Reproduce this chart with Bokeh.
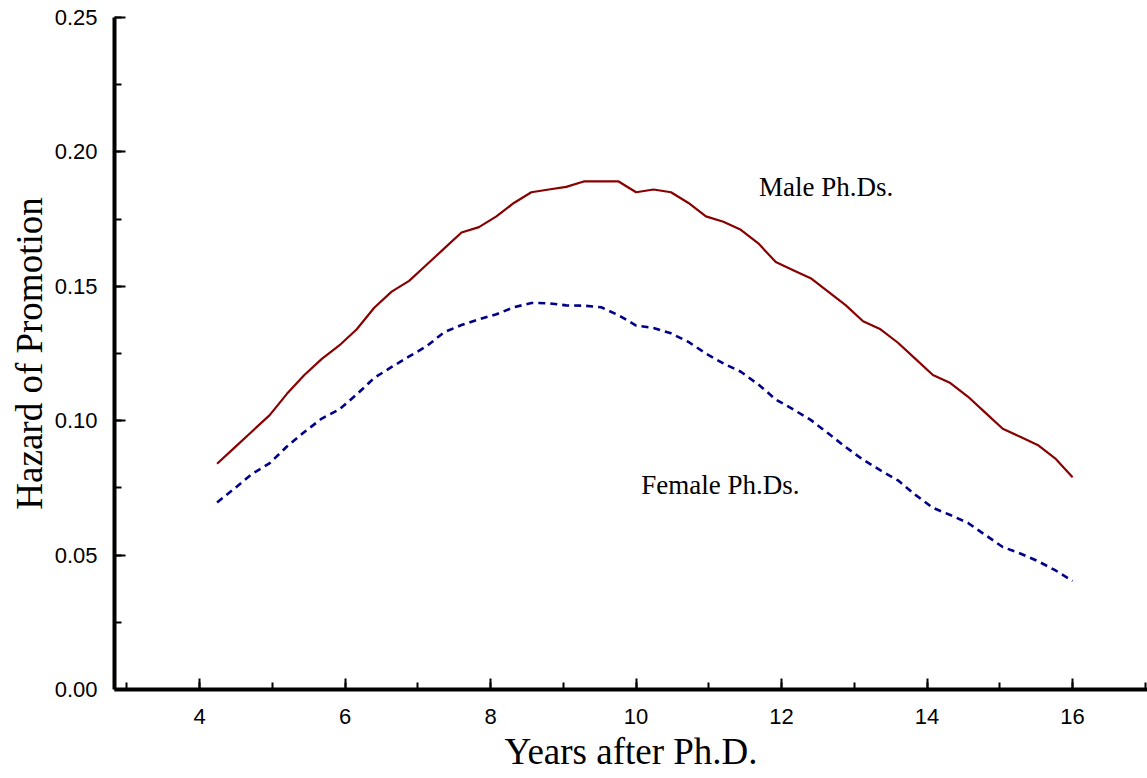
from bokeh.plotting import figure
from bokeh.models import SingleIntervalTicker, NumeralTickFormatter, Range1d
from bokeh.core.properties import value
from bokeh.embed import file_html
from bokeh.resources import INLINE

years = [4.24, 4.48, 4.72, 4.96, 5.20, 5.44, 5.68, 5.92, 6.16, 6.40,
         6.64, 6.88, 7.12, 7.36, 7.60, 7.84, 8.08, 8.32, 8.56, 8.80,
         9.04, 9.28, 9.52, 9.76, 10.00, 10.24, 10.48, 10.72, 10.96, 11.20,
         11.44, 11.68, 11.92, 12.16, 12.40, 12.64, 12.88, 13.12, 13.36, 13.60,
         13.84, 14.08, 14.32, 14.56, 14.80, 15.04, 15.28, 15.52, 15.76, 16.00]

male = [0.084, 0.090, 0.096, 0.102, 0.110, 0.117, 0.123, 0.128, 0.134, 0.142,
        0.148, 0.152, 0.158, 0.164, 0.170, 0.172, 0.176, 0.181, 0.185, 0.186,
        0.187, 0.189, 0.189, 0.189, 0.185, 0.186, 0.185, 0.181, 0.176, 0.174,
        0.171, 0.166, 0.159, 0.156, 0.153, 0.148, 0.143, 0.137, 0.134, 0.129,
        0.123, 0.117, 0.114, 0.109, 0.103, 0.097, 0.094, 0.091, 0.086, 0.079]

female = [0.0696, 0.0748, 0.0802, 0.0841, 0.0904, 0.0958, 0.1008, 0.1042, 0.1098, 0.1159,
          0.1200, 0.1239, 0.1277, 0.1329, 0.1356, 0.1377, 0.1396, 0.1422, 0.1438, 0.1437,
          0.1429, 0.1428, 0.1422, 0.1392, 0.1354, 0.1345, 0.1325, 0.1293, 0.1250, 0.1213,
          0.1182, 0.1135, 0.1079, 0.1042, 0.1003, 0.0953, 0.0902, 0.0855, 0.0815, 0.0778,
          0.0724, 0.0676, 0.0649, 0.0620, 0.0575, 0.0530, 0.0506, 0.0478, 0.0444, 0.0404]

series_labels = ["Male Ph.Ds.", "Female Ph.Ds."]
label_x = [11.69, 10.07]
label_y = [0.187, 0.0759]

x_title = "Years after Ph.D."
y_title = "Hazard of Promotion"

p = figure(width=1147, height=778, output_backend="svg", toolbar_location=None,
           x_range=Range1d(2.83, 17.03), y_range=Range1d(0, 0.25),
           min_border_left=114, min_border_right=0, min_border_top=17, min_border_bottom=89)
p.outline_line_color = None
p.xgrid.visible = False
p.ygrid.visible = False
p.background_fill_color = "white"
p.border_fill_color = "white"

p.line(years, male, line_color="#880000", line_width=2.2)
p.line(years, female, line_color="#000088", line_width=2.6, line_dash="7 5")

p.text(x=label_x, y=label_y, text=series_labels, text_font=value("Liberation Serif"),
       text_font_size="27px", text_align="left", text_baseline="middle", text_color="black")

for ax in (p.xaxis[0], p.yaxis[0]):
    ax.axis_line_width = 4
    ax.axis_line_color = "black"
    ax.major_tick_line_width = 2
    ax.minor_tick_line_width = 2
    ax.major_tick_line_color = "black"
    ax.minor_tick_line_color = "black"
    ax.major_tick_out = 0
    ax.minor_tick_out = 0
    ax.major_tick_in = 11
    ax.minor_tick_in = 7
    ax.major_label_text_font = "Liberation Sans"
    ax.major_label_text_font_size = "22px"
    ax.major_label_text_color = "black"
    ax.axis_label_text_font = "Liberation Serif"
    ax.axis_label_text_font_size = "37px"
    ax.axis_label_text_font_style = "normal"
    ax.axis_label_text_color = "black"

p.xaxis[0].ticker = SingleIntervalTicker(interval=2, num_minor_ticks=2)
p.yaxis[0].ticker = SingleIntervalTicker(interval=0.05, num_minor_ticks=2)
p.yaxis[0].formatter = NumeralTickFormatter(format="0.00")
p.xaxis[0].axis_label = x_title
p.yaxis[0].axis_label = y_title
p.xaxis[0].major_label_standoff = 19
p.yaxis[0].major_label_standoff = 17
p.xaxis[0].axis_label_standoff = 4
p.yaxis[0].axis_label_standoff = 2

open("out.html", "w").write(file_html(p, INLINE))
